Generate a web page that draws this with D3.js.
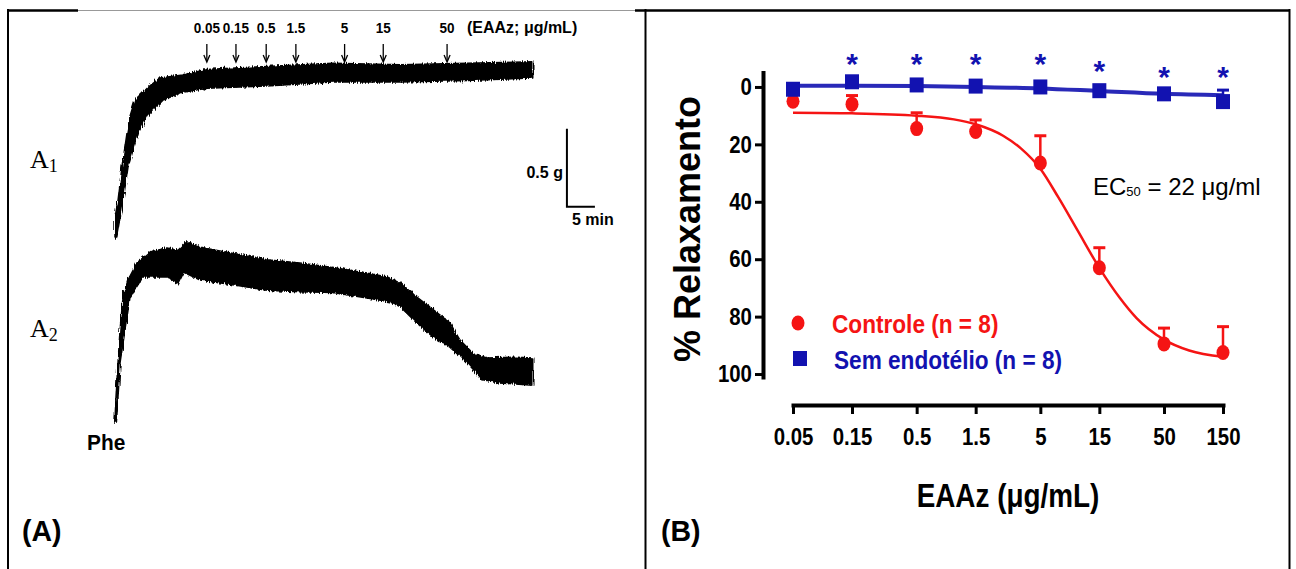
<!DOCTYPE html>
<html>
<head>
<meta charset="utf-8">
<script src="https://cdn.jsdelivr.net/npm/d3@7"></script>
<style>
body { margin: 0; background: #fff; }
svg { display: block; }
</style>
</head>
<body>
<script>
// ---------- panel A : tension traces (time in min, tension in g) ----------
var a1Top = [[0,0],[0,0.13],[0.54,0.24],[1.25,0.455],[2.14,0.67],[2.68,0.78],[3.57,0.885],[5.0,0.935],[6.25,0.975],[8.0,1.025],[12.1,1.045],[16.4,1.08],[27.1,1.10],[38.9,1.12],[50.9,1.11],[62.9,1.12],[74.6,1.13]];
var a1Bottom = [[0.25,0],[0.9,0.13],[1.43,0.24],[2.32,0.455],[4.1,0.67],[5.7,0.78],[8.6,0.885],[12.1,0.935],[16.4,0.96],[27.1,0.975],[38.9,1.0],[50.9,1.0],[62.9,1.01],[74.6,1.025]];
var a2Top = [[0,0],[0.18,0.16],[0.54,0.38],[0.9,0.59],[1.43,0.80],[2.32,0.91],[3.93,1.02],[6.25,1.09],[9.29,1.115],[11.25,1.10],[12.86,1.155],[15.2,1.12],[21.1,1.08],[27.1,1.04],[33.0,1.02],[38.9,0.99],[45.0,0.955],[48.6,0.93],[50.9,0.89],[53.9,0.80],[56.8,0.72],[59.8,0.635],[61.6,0.525],[63.9,0.44],[66.4,0.41],[71.8,0.415],[74.6,0.41]];
var a2Bottom = [[0.25,0],[0.54,0.16],[0.9,0.38],[1.79,0.59],[2.68,0.80],[5.0,0.93],[9.29,0.93],[11.25,0.885],[12.3,0.96],[15.2,0.91],[21.1,0.88],[27.1,0.845],[33.0,0.835],[38.9,0.83],[45.0,0.795],[49.1,0.77],[50.9,0.74],[53.9,0.635],[56.8,0.545],[59.8,0.48],[62.9,0.38],[65.7,0.27],[68.75,0.25],[74.6,0.235]];
var doseTimes = [16.4, 21.6, 27.0, 32.3, 41.0, 47.9, 59.3];
var doseLabels = ["0.05", "0.15", "0.5", "1.5", "5", "15", "50"];

// ---------- panel B : concentration-response ----------
var doses = [0.05, 0.15, 0.5, 1.5, 5, 15, 50, 150];
var doseTicks = ["0.05", "0.15", "0.5", "1.5", "5", "15", "50", "150"];
var controle = [5, 6, 14.5, 15.5, 26.5, 63, 89.5, 92.5];
var controleErr = [0, 3, 5.5, 4, 9.5, 7, 5.5, 9];
var semEndo = [0.8, -1.8, -0.7, -0.3, 0, 1.3, 2.4, 5.1];
var semEndoErr = [0, 0, 0, 0, 0, 0, 0, 4];
var fitX = [0.05, 0.15, 0.5, 1, 1.5, 2.5, 3.5, 5, 7, 10, 15, 22, 30, 50, 80, 150];
var fitControle = [9, 9.2, 10, 11.3, 13, 17, 21.5, 28.5, 38.5, 50, 63, 73.5, 80.5, 88, 91.8, 94];
var fitSemEndo = [-0.4, -0.4, -0.3, 0, 0.5, 1.4, 2.4, 2.9];
var starDoses = [0.15, 0.5, 1.5, 5, 15, 50, 150];
var starY = [-10.5, -10.5, -10.5, -10.5, -8, -5.9, -5.9];

var RED = "#f51414";
var BLUE = "#1212b0";
var FONT = "'Liberation Sans', Arial, sans-serif";

var svg = d3.select("body").append("svg")
	.attr("width", 1296)
	.attr("height", 569);

// rough edges for the recorder traces
var filt = svg.append("defs").append("filter")
	.attr("id", "rough")
	.attr("x", "-5%").attr("y", "-10%").attr("width", "110%").attr("height", "120%");
filt.append("feTurbulence")
	.attr("type", "fractalNoise")
	.attr("baseFrequency", "0.9 0.08")
	.attr("numOctaves", 2)
	.attr("seed", 3)
	.attr("result", "noise");
filt.append("feDisplacementMap")
	.attr("in", "SourceGraphic")
	.attr("in2", "noise")
	.attr("scale", 5)
	.attr("xChannelSelector", "R")
	.attr("yChannelSelector", "G");

// text helper, sx squeezes the glyphs horizontally like the original
function label(g, x, y, str, size, opt) {
	opt = opt || {};
	var t = g.append("text")
		.attr("transform", "translate(" + x + "," + y + ") scale(" + (opt.sx || 1) + ",1)" + (opt.rot ? " rotate(" + opt.rot + ")" : ""))
		.attr("font-family", opt.family || FONT)
		.attr("font-size", size)
		.attr("font-weight", opt.weight || "bold")
		.attr("fill", opt.fill || "#000")
		.attr("text-anchor", opt.anchor || "start")
		.text(str);
	return t;
}

//frame
var frame = svg.append("g").attr("stroke", "#000").attr("fill", "none");
frame.append("line").attr("x1", 7).attr("x2", 78).attr("y1", 10.5).attr("y2", 10.5).attr("stroke-width", 2.5);
frame.append("line").attr("x1", 78).attr("x2", 635).attr("y1", 10.5).attr("y2", 10.5).attr("stroke-width", 1).attr("stroke", "#999");
frame.append("line").attr("x1", 635).attr("x2", 1290).attr("y1", 10.5).attr("y2", 10.5).attr("stroke-width", 2.5);
frame.append("line").attr("x1", 8).attr("x2", 8).attr("y1", 9).attr("y2", 569).attr("stroke-width", 2);
frame.append("line").attr("x1", 645.5).attr("x2", 645.5).attr("y1", 9).attr("y2", 569).attr("stroke-width", 2);
frame.append("line").attr("x1", 1289.5).attr("x2", 1289.5).attr("y1", 9).attr("y2", 569).attr("stroke-width", 2);

// ================= Panel A =================
var gA = svg.append("g");
var xA = d3.scaleLinear().domain([0, 75]).range([115, 535]);
var yA1 = d3.scaleLinear().domain([0, 1]).range([238, 82]);
var yA2 = d3.scaleLinear().domain([0, 1]).range([422, 266]);

function trace(top, bottom, yScale) {
	var line = d3.line()
		.x(function(d) { return xA(d[0]); })
		.y(function(d) { return yScale(d[1]); });
	var pts = top.concat(bottom.slice().reverse());
	gA.append("path")
		.attr("d", line(pts) + "Z")
		.attr("fill", "#000")
		.attr("stroke", "#000")
		.attr("stroke-width", 1.5)
		.attr("stroke-linejoin", "round")
		.attr("filter", "url(#rough)");
}
trace(a1Top, a1Bottom, yA1);
trace(a2Top, a2Bottom, yA2);

// dose arrows
doseTimes.forEach(function(t, i) {
	var x = xA(t);
	gA.append("line").attr("x1", x).attr("x2", x).attr("y1", 44).attr("y2", 61)
		.attr("stroke", "#000").attr("stroke-width", 1.3);
	gA.append("path").attr("d", "M" + (x - 3) + ",55 L" + x + ",62 L" + (x + 3) + ",55")
		.attr("fill", "none").attr("stroke", "#000").attr("stroke-width", 1.3);
	label(gA, x, 33, doseLabels[i], 15, {anchor: "middle", sx: 0.9});
});
label(gA, 467, 33, "(EAAz; \u03bcg/mL)", 16);

// scale bar 0.5 g / 5 min
var sbT = 80.7, sbG = 0.2;
gA.append("path")
	.attr("d", "M" + xA(sbT) + "," + yA1(sbG + 0.5) + " V" + yA1(sbG) + " H" + xA(sbT + 5))
	.attr("fill", "none").attr("stroke", "#000").attr("stroke-width", 2);
label(gA, xA(sbT) - 4, 178, "0.5 g", 16, {anchor: "end"});
label(gA, 572, 225, "5 min", 16);

// A1 / A2 labels
[["1", 168], ["2", 337]].forEach(function(d) {
	var t = label(gA, 30, d[1], "A", 26, {family: "'Liberation Serif', 'Times New Roman', serif", weight: "normal"});
	t.append("tspan").attr("font-size", 18).attr("dy", 4).text(d[0]);
});
label(gA, 87, 450, "Phe", 22, {sx: 0.95});
label(gA, 22, 541, "(A)", 30, {sx: 0.95});

// ================= Panel B =================
var gB = svg.append("g");
var x = d3.scaleLog().domain([0.05, 150]).range([793, 1223]);
var y = d3.scaleLinear().domain([-5, 101]).range([72.6, 376.9]);

var yAxis = gB.append("g")
	.attr("transform", "translate(763,0)")
	.call(d3.axisLeft(y).tickValues([0, 20, 40, 60, 80, 100]).tickSize(8).tickSizeOuter(0));
var xAxis = gB.append("g")
	.attr("transform", "translate(0,405)")
	.call(d3.axisBottom(x).tickValues(doses).tickFormat(function(d, i) { return doseTicks[i]; })
		.tickSize(9).tickSizeOuter(0).tickPadding(14));

[yAxis, xAxis].forEach(function(ax) {
	ax.select(".domain").attr("stroke-width", 4).attr("stroke-linecap", "square");
	ax.selectAll(".tick line").attr("stroke-width", 3);
	ax.selectAll(".tick text")
		.attr("font-family", FONT)
		.attr("font-size", 24)
		.attr("font-weight", "bold")
		.attr("fill", "#000");
});
xAxis.selectAll(".tick text").attr("transform", "scale(0.85,1)");
yAxis.selectAll(".tick text").attr("transform", "scale(0.85,1)").attr("x", -13);

label(gB, 1008, 507, "EAAz (\u03bcg/mL)", 34, {anchor: "middle", sx: 0.82});
label(gB, 700, 229, "% Relaxamento", 36, {anchor: "middle", rot: -90});
label(gB, 661, 541, "(B)", 30, {sx: 0.95});

// fitted curves
var fitLine = d3.line()
	.x(function(d) { return x(d[0]); })
	.y(function(d) { return y(d[1]); })
	.curve(d3.curveMonotoneX);

gB.append("path")
	.attr("d", fitLine(fitX.map(function(v, i) { return [v, fitControle[i]]; })))
	.attr("fill", "none").attr("stroke", RED).attr("stroke-width", 2.5);
gB.append("path")
	.attr("d", fitLine(doses.map(function(v, i) { return [v, fitSemEndo[i]]; })))
	.attr("fill", "none").attr("stroke", BLUE).attr("stroke-width", 4).attr("opacity", 0.9);

// error bars (one-sided, towards the top)
function errBars(vals, errs, color) {
	doses.forEach(function(d, i) {
		if (!errs[i]) return;
		var cx = x(d), y0 = y(vals[i]), y1 = y(vals[i] - errs[i]);
		gB.append("line").attr("x1", cx).attr("x2", cx).attr("y1", y0).attr("y2", y1)
			.attr("stroke", color).attr("stroke-width", 2.5);
		gB.append("line").attr("x1", cx - 6).attr("x2", cx + 6).attr("y1", y1).attr("y2", y1)
			.attr("stroke", color).attr("stroke-width", 3);
	});
}
errBars(controle, controleErr, RED);
errBars(semEndo, semEndoErr, BLUE);

gB.selectAll("ellipse.ctrl")
	.data(doses)
	.enter()
	.append("ellipse")
	.attr("class", "ctrl")
	.attr("cx", function(d) { return x(d); })
	.attr("cy", function(d, i) { return y(controle[i]); })
	.attr("rx", 6.5).attr("ry", 7.5)
	.attr("fill", RED);

gB.selectAll("rect.sem")
	.data(doses)
	.enter()
	.append("rect")
	.attr("class", "sem")
	.attr("x", function(d) { return x(d) - 7; })
	.attr("y", function(d, i) { return y(semEndo[i]) - 7.5; })
	.attr("width", 14).attr("height", 15)
	.attr("fill", BLUE);

// significance stars
starDoses.forEach(function(d, i) {
	label(gB, x(d), y(starY[i]) + 17, "*", 30, {anchor: "middle", fill: BLUE});
});

// legend
gB.append("ellipse").attr("cx", 798).attr("cy", 323).attr("rx", 6.5).attr("ry", 7.5).attr("fill", RED);
label(gB, 832, 333, "Controle (n = 8)", 26, {fill: RED, sx: 0.87});
gB.append("rect").attr("x", 793).attr("y", 351).attr("width", 14).attr("height", 15).attr("fill", BLUE);
label(gB, 834, 369, "Sem endot\u00e9lio (n = 8)", 26, {fill: BLUE, sx: 0.87});

// EC50 note
var ec = label(gB, 1093, 195, "EC", 24, {weight: "normal"});
ec.append("tspan").attr("font-size", 13).attr("dy", 1).text("50");
ec.append("tspan").attr("dy", -1).text(" = 22  \u03bcg/ml");
</script>
</body>
</html>
